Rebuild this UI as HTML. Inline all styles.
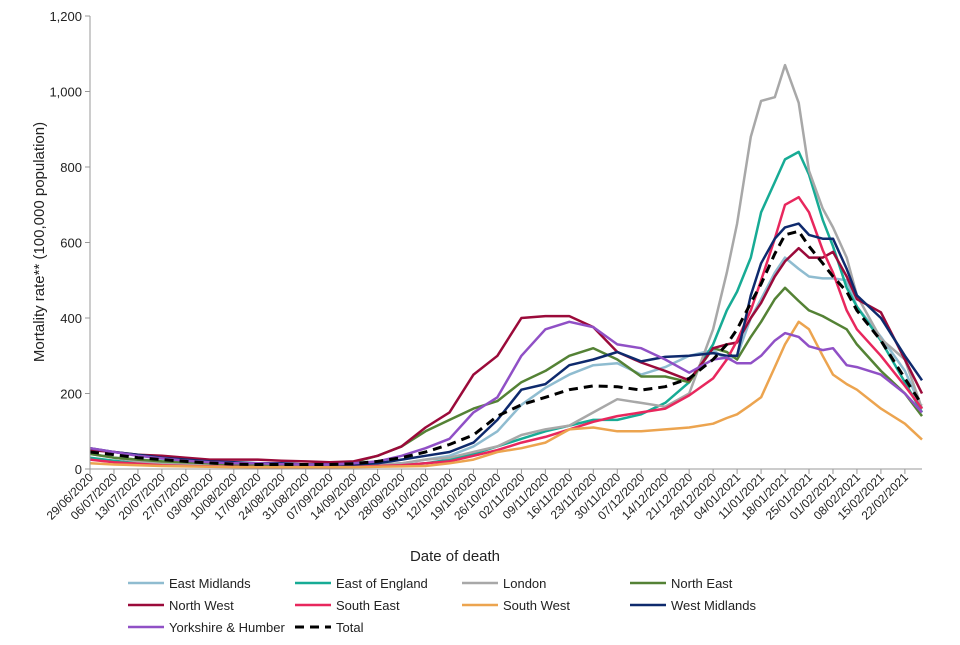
<!DOCTYPE html>
<html><head><meta charset="utf-8"><style>
body{margin:0;background:#fff;font-family:"Liberation Sans",Arial,sans-serif;}
svg text{font-family:"Liberation Sans",Arial,sans-serif;fill:#222;}
</style></head><body>
<svg id="chart" width="960" height="640" viewBox="0 0 960 640" xmlns="http://www.w3.org/2000/svg">
<g id="grid"></g><g id="series"></g><g id="axes"></g><g id="legend"></g>
</svg>
<script>
const days=[0,7,14,21,28,35,42,49,56,63,70,77,84,91,98,105,112,119,126,133,140,147,154,161,168,175,182,186,189,193,196,200,203,207,210,214,217,221,224,231,238,243];
const eastMidlands=[40,30,25,22,18,15,12,12,10,10,10,10,12,15,25,35,60,100,170,215,250,275,280,250,270,300,315,290,300,400,450,520,560,530,510,505,505,500,430,350,260,160];
const eastOfEngland=[30,22,15,12,10,8,6,5,5,5,5,6,8,10,15,25,40,60,80,100,115,130,130,145,175,230,330,420,470,560,680,760,820,840,780,660,590,480,430,340,230,150];
const london=[40,30,20,15,12,10,8,8,7,7,8,8,10,15,25,30,45,60,90,105,115,150,185,175,165,200,370,520,650,880,975,985,1070,970,790,690,640,560,460,345,290,160];
const northEast=[40,30,25,20,18,15,12,10,10,12,15,18,35,60,100,130,160,180,230,260,300,320,290,245,245,230,320,310,290,350,390,450,480,445,420,405,390,370,330,260,200,140];
const northWest=[50,45,38,35,30,25,25,25,22,20,18,20,35,60,110,150,250,300,400,405,405,376,310,282,260,235,320,330,335,400,440,510,550,585,560,560,575,510,450,415,290,200];
const southEast=[25,18,14,10,8,7,6,5,5,5,5,6,8,10,15,20,35,50,70,85,105,125,140,150,160,195,240,290,340,420,500,610,700,720,680,580,520,420,370,300,220,160];
const southWest=[15,12,10,8,7,6,5,5,5,5,5,5,6,7,8,15,25,45,55,70,105,110,100,100,105,110,120,135,145,170,190,270,330,390,370,300,250,225,210,160,120,78];
const westMidlands=[55,45,38,30,25,20,18,15,15,12,12,12,15,25,35,45,70,130,210,225,275,290,310,285,297,300,307,300,300,460,545,610,640,650,620,610,610,530,460,400,300,235];
const yorkshire=[55,45,35,28,22,18,15,15,13,12,12,15,20,35,55,80,150,190,300,370,390,376,330,320,290,255,290,295,280,280,300,340,360,350,325,315,320,275,270,250,200,150];
const total=[45,38,30,25,20,16,13,12,12,12,12,14,20,30,45,65,90,140,170,190,210,220,218,209,218,240,290,330,370,440,490,570,620,630,590,545,510,470,420,340,240,170];
const yTicks=[0,200,400,600,800,1000,1200];
const yTickLabels=["0","200","400","600","800","1,000","1,200"];
const xTickLabels=["29/06/2020","06/07/2020","13/07/2020","20/07/2020","27/07/2020","03/08/2020","10/08/2020","17/08/2020","24/08/2020","31/08/2020","07/09/2020","14/09/2020","21/09/2020","28/09/2020","05/10/2020","12/10/2020","19/10/2020","26/10/2020","02/11/2020","09/11/2020","16/11/2020","23/11/2020","30/11/2020","07/12/2020","14/12/2020","21/12/2020","28/12/2020","04/01/2021","11/01/2021","18/01/2021","25/01/2021","01/02/2021","08/02/2021","15/02/2021","22/02/2021"];
const seriesNames=["East Midlands","East of England","London","North East","North West","South East","South West","West Midlands","Yorkshire & Humber","Total"];
const seriesData=[eastMidlands,eastOfEngland,london,northEast,northWest,southEast,southWest,westMidlands,yorkshire,total];
const seriesColors=["#8fbcd0","#17ab95","#a8a8a8","#548235","#9b0a3a","#e8275d","#eca44f","#0e2a6d","#9050c6","#000"];

const X0=90,X1=922,Y0=469,Y1=16,DMAX=243;
const xs=d=>X0+(X1-X0)*d/DMAX;
const ys=v=>Y0-(Y0-Y1)*v/1200;
const NS="http://www.w3.org/2000/svg";
function mk(tag,attrs,parent){const e=document.createElementNS(NS,tag);for(const k in attrs)e.setAttribute(k,attrs[k]);parent.appendChild(e);return e;}
const axes=document.getElementById('axes'),ser=document.getElementById('series'),leg=document.getElementById('legend');

// y axis
const yl=mk('line',{x1:X0,y1:Y1,x2:X0,y2:Y0,stroke:'#999','stroke-width':1},axes);


yTicks.forEach((v,i)=>{
  const t=mk('line',{x1:X0-5,y1:ys(v),x2:X0,y2:ys(v),stroke:'#999'},axes);
  
  
  const tx=mk('text',{x:X0-8,y:ys(v)+5,'text-anchor':'end','font-size':13},axes);
  tx.textContent=yTickLabels[i];
  
  
});
// x axis
const xl=mk('line',{x1:X0,y1:Y0,x2:X1,y2:Y0,stroke:'#999','stroke-width':1},axes);


xTickLabels.forEach((lab,i)=>{
  const x=xs(i*7);
  const t=mk('line',{x1:x,y1:Y0,x2:x,y2:Y0+5,stroke:'#999'},axes);
  
  
  const tx=mk('text',{x:x+4,y:Y0+9,'text-anchor':'end','font-size':12,transform:`rotate(-45 ${x+4} ${Y0+9})`},axes);
  tx.textContent=lab;
  
  
});
const yt=mk('text',{x:44,y:242,'text-anchor':'middle','font-size':15,transform:'rotate(-90 44 242)'},axes);
yt.textContent='Mortality rate** (100,000 population)';


const xt=mk('text',{x:455,y:561,'text-anchor':'middle','font-size':15},axes);
xt.textContent='Date of death';



// series
seriesData.forEach((arr,s)=>{
  const pts=arr.map((v,i)=>xs(days[i]).toFixed(1)+','+ys(v).toFixed(1)).join(' ');
  const a={points:pts,fill:'none',stroke:seriesColors[s],'stroke-width':s===9?3:2.5,'stroke-linejoin':'round'};
  if(s===9)a['stroke-dasharray']='9,6';
  const p=mk('polyline',a,ser);
  
  
});
// legend
const colX=[128,295,462,630],rowY=[583,605,627];
seriesNames.forEach((n,s)=>{
  const x=colX[s%4],y=rowY[Math.floor(s/4)];
  const g=mk('g',{},leg);
  
  
  const a={x1:x,y1:y,x2:x+36,y2:y,stroke:seriesColors[s],'stroke-width':s===9?3:2.5};
  if(s===9)a['stroke-dasharray']='9,6';
  mk('line',a,g);
  const t=mk('text',{x:x+41,y:y+5,'font-size':13},g);
  t.textContent=n;
});
</script>
</body></html>
